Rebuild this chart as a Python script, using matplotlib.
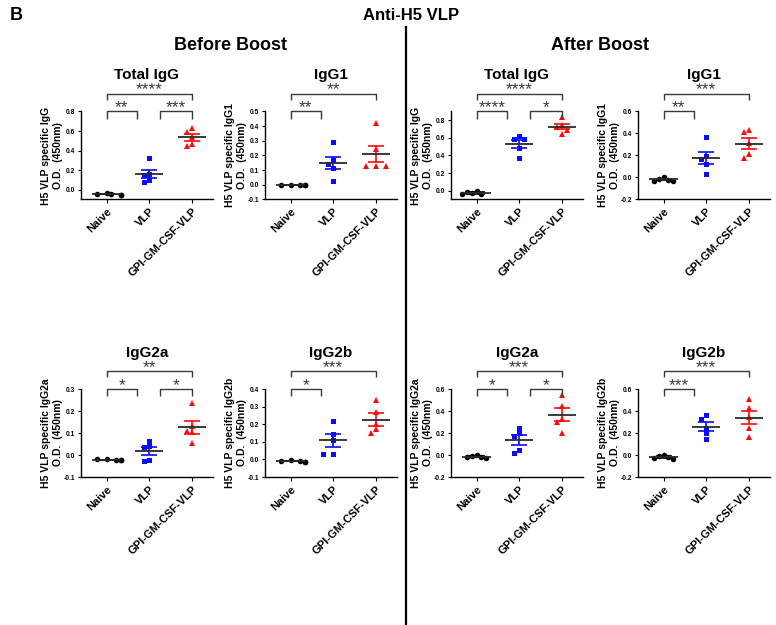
import numpy as np
import matplotlib
matplotlib.use("Agg")
import matplotlib.pyplot as plt
import matplotlib.transforms as mtransforms
from matplotlib.lines import Line2D

plt.rcParams['font.family'] = ['Liberation Sans', 'DejaVu Sans']
plt.rcParams['font.weight'] = 'bold'
plt.rcParams['axes.labelweight'] = 'bold'
plt.rcParams['axes.linewidth'] = 1.0

groups = ['Naive', 'VLP', 'GPI-GM-CSF-VLP']
colors = ['black', '#0a0aff', '#ff0a0a']
markers = ['o', 's', '^']

# O.D. values, one list per group (Naive, VLP, GPI-GM-CSF-VLP)
before_total = [[-0.03, -0.045, -0.05, -0.05, -0.04], [0.32, 0.165, 0.15, 0.10, 0.08], [0.63, 0.59, 0.54, 0.47, 0.45]]
before_igg1 = [[0.002, 0.0, 0.001, -0.001, 0.0], [0.295, 0.17, 0.14, 0.115, 0.027], [0.42, 0.245, 0.13, 0.13, 0.13]]
before_igg2a = [[-0.02, -0.021, -0.022, -0.02, -0.022], [0.065, 0.042, 0.036, -0.021, -0.026], [0.235, 0.13, 0.11, 0.105, 0.055]]
before_igg2b = [[-0.005, -0.01, -0.012, -0.012, -0.01], [0.22, 0.147, 0.113, 0.032, 0.028], [0.34, 0.27, 0.2, 0.17, 0.15]]
after_total = [[0.0, -0.01, -0.03, -0.04, -0.04], [0.62, 0.59, 0.585, 0.48, 0.37], [0.84, 0.745, 0.725, 0.69, 0.645]]
after_igg1 = [[0.0, -0.01, -0.02, -0.03, -0.03], [0.365, 0.195, 0.165, 0.12, 0.03], [0.43, 0.41, 0.31, 0.21, 0.175]]
after_igg2a = [[0.0, -0.01, -0.02, -0.03, -0.02], [0.25, 0.2, 0.17, 0.05, 0.02], [0.55, 0.45, 0.33, 0.30, 0.20]]
after_igg2b = [[0.0, -0.01, -0.03, -0.04, -0.02], [0.36, 0.33, 0.25, 0.2, 0.15], [0.51, 0.43, 0.35, 0.25, 0.16]]

# significance brackets: (group a, group b, label)
before_total_sig = [(0, 1, '**'), (1, 2, '***'), (0, 2, '****')]
before_igg1_sig = [(0, 1, '**'), (0, 2, '**')]
before_igg2a_sig = [(0, 1, '*'), (1, 2, '*'), (0, 2, '**')]
before_igg2b_sig = [(0, 1, '*'), (0, 2, '***')]
after_total_sig = [(0, 1, '****'), (1, 2, '*'), (0, 2, '****')]
after_igg1_sig = [(0, 1, '**'), (0, 2, '***')]
after_igg2a_sig = [(0, 1, '*'), (1, 2, '*'), (0, 2, '***')]
after_igg2b_sig = [(0, 1, '***'), (0, 2, '***')]

W, H = 776, 625
fig = plt.figure(figsize=(W / 100, H / 100), dpi=100)


def swarm(values, span, px_x=42.6, px_y=88.0, gap=5.0, step=0.115):
    # simple beeswarm so that overlapping points get spread sideways
    vals = np.asarray(values, dtype=float)
    offs = np.zeros(len(vals))
    placed = []
    for k in np.argsort(vals)[::-1]:
        dx = 0.0
        for c in [0, -1, 1, -2, 2, -3, 3]:
            dx = c * step
            if all(np.hypot((dx - a) * px_x, (vals[k] - b) / span * px_y) >= gap for a, b in placed):
                break
        offs[k] = dx
        placed.append((dx, vals[k]))
    return offs


def bracket(ax, x1, x2, y, leg, label):
    tr = mtransforms.blended_transform_factory(ax.transData, ax.transAxes)
    ax.plot([x1, x1, x2, x2], [y - leg, y, y, y - leg], color='#3a3a3a', lw=1.0,
            transform=tr, clip_on=False, solid_capstyle='butt')
    ax.annotate(label, xy=((x1 + x2) / 2, y), xycoords=tr, xytext=(0, -0.5),
                textcoords='offset points', ha='center', va='baseline', fontsize=12.5,
                color='#3a3a3a', fontweight='normal', annotation_clip=False)


def panel(left, top, title, ig, data, ylim, yticks, sigs):
    ax = fig.add_axes([left / W, 1 - (top + 88) / H, 132 / W, 88 / H])
    span = ylim[1] - ylim[0]
    for i, vals in enumerate(data):
        vals = np.asarray(vals)
        offs = swarm(vals, span)
        ax.plot(i + offs, vals, linestyle='none', marker=markers[i], color=colors[i],
                ms=3.6 if markers[i] == 's' else 4.0, mew=0, zorder=2, clip_on=False)
        mean = vals.mean()
        sem = vals.std(ddof=1) / np.sqrt(len(vals))
        ax.errorbar(i, mean, yerr=sem, fmt='none', ecolor=colors[i], elinewidth=1.2,
                    capsize=6, capthick=1.2, zorder=3)
        ax.hlines(mean, i - 0.33, i + 0.33, colors='#2b2b2b', lw=1.3, zorder=4)

    ax.set_xlim(-0.6, 2.5)
    ax.set_ylim(*ylim)
    ax.set_yticks(yticks)
    ax.set_yticklabels([f'{t:.1f}' for t in yticks])
    ax.set_xticks(range(3))
    ax.set_xticklabels(groups, rotation=45, ha='right', rotation_mode='anchor')
    for s in ['top', 'right']:
        ax.spines[s].set_visible(False)
    ax.tick_params(axis='y', length=2.5, width=0.8, labelsize=4.8, pad=1.5)
    ax.tick_params(axis='x', length=3, width=0.8, labelsize=8, pad=2)

    ax.set_ylabel(f'H5 VLP specific {ig}\nO.D.  (450nm)', fontsize=7.5, linespacing=1.25)
    ax.yaxis.set_label_coords(-0.14, 0.5)
    ax.text(0.5, 1.41, title, transform=ax.transAxes, ha='center', va='center',
            fontsize=11, fontweight='bold')

    for a, b, lab in sigs:
        x1 = a + (0.25 if a == 1 else 0.0)
        x2 = b - (0.28 if b == 1 else 0.0)
        if b - a == 1:
            bracket(ax, x1, x2, 1.0, 0.08, lab)
        else:
            bracket(ax, x1, x2, 1.2, 0.065, lab)
    return ax


cols = [81, 265, 451, 638]
top_row, bottom_row = 111.5, 389

panel(cols[0], top_row, 'Total IgG', 'IgG', before_total, (-0.1, 0.8), np.arange(0, 0.81, 0.2), before_total_sig)
panel(cols[1], top_row, 'IgG1', 'IgG1', before_igg1, (-0.1, 0.5), np.arange(-0.1, 0.51, 0.1), before_igg1_sig)
panel(cols[2], top_row, 'Total IgG', 'IgG', after_total, (-0.1, 0.9), np.arange(0, 0.81, 0.2), after_total_sig)
panel(cols[3], top_row, 'IgG1', 'IgG1', after_igg1, (-0.2, 0.6), np.arange(-0.2, 0.61, 0.2), after_igg1_sig)
panel(cols[0], bottom_row, 'IgG2a', 'IgG2a', before_igg2a, (-0.1, 0.3), np.arange(-0.1, 0.31, 0.1), before_igg2a_sig)
panel(cols[1], bottom_row, 'IgG2b', 'IgG2b', before_igg2b, (-0.1, 0.4), np.arange(-0.1, 0.41, 0.1), before_igg2b_sig)
panel(cols[2], bottom_row, 'IgG2a', 'IgG2a', after_igg2a, (-0.2, 0.6), np.arange(-0.2, 0.61, 0.2), after_igg2a_sig)
panel(cols[3], bottom_row, 'IgG2b', 'IgG2b', after_igg2b, (-0.2, 0.6), np.arange(-0.2, 0.61, 0.2), after_igg2b_sig)

fig.text(10 / W, 1 - 15 / H, 'B', fontsize=13, fontweight='bold', va='center')
fig.text(411 / W, 1 - 15 / H, 'Anti-H5 VLP', fontsize=12, fontweight='bold', ha='center', va='center')
fig.text(230 / W, 1 - 45 / H, 'Before Boost', fontsize=13, fontweight='bold', ha='center', va='center')
fig.text(600 / W, 1 - 45 / H, 'After Boost', fontsize=13, fontweight='bold', ha='center', va='center')
fig.add_artist(Line2D([406 / W, 406 / W], [1 - 27 / H, 0], color='black', lw=1.6))

fig.savefig('out.png', dpi=100)
